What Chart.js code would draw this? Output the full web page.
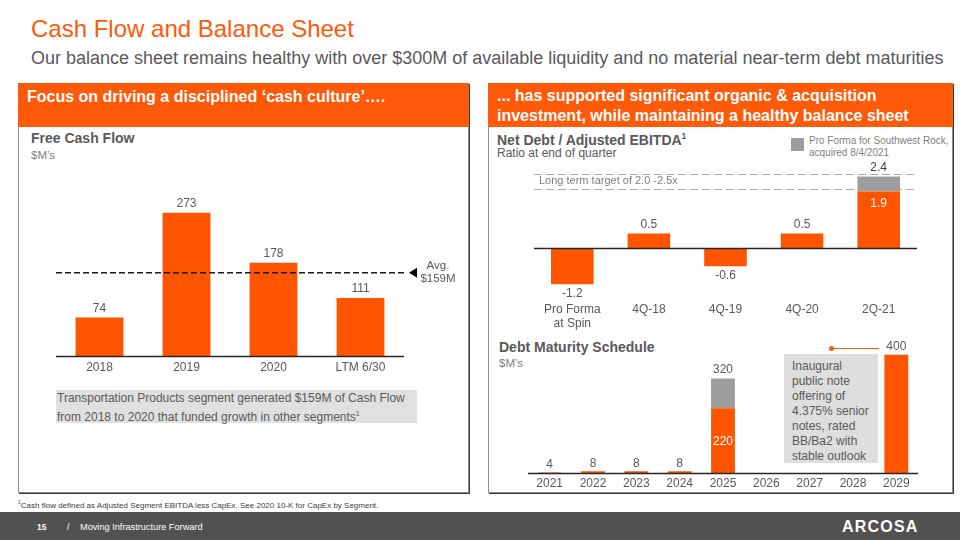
<!DOCTYPE html>
<html>
<head>
<meta charset="utf-8">
<script src="https://cdn.jsdelivr.net/npm/chart.js@4.4.1/dist/chart.umd.min.js"></script>
<style>
  body { margin: 0; width: 960px; height: 540px; position: relative; overflow: hidden; background: #fff; font-family: "Liberation Sans", Arial, sans-serif; color: #595959; }
  .abs { position: absolute; white-space: nowrap; }
  .panel { position: absolute; border: 1px solid #8c8c8c; box-shadow: 1px 1px 0 #3a3a3a; box-sizing: border-box; }
  .head { position: absolute; background: #ff5a0a; color: #fff; font-weight: bold; font-size: 16px; box-sizing: border-box; }
  canvas { position: absolute; }
</style>
</head>
<body>
<div class="abs" style="left:31px;top:15px;font-size:24px;color:#ff5a0a;">Cash Flow and Balance Sheet</div>
<div class="abs" style="left:31px;top:48px;font-size:18px;color:#595959;">Our balance sheet remains healthy with over $300M of available liquidity and no material near-term debt maturities</div>

<div class="panel" style="left:18px;top:83px;width:451px;height:410px;"></div>
<div class="head" style="left:18px;top:83px;width:451px;height:44px;padding:5px 0 0 9px;">Focus on driving a disciplined ‘cash culture’….</div>
<div class="abs" style="left:31px;top:130px;font-size:14px;font-weight:bold;">Free Cash Flow</div>
<div class="abs" style="left:31px;top:149px;font-size:11.5px;color:#7f7f7f;">$M’s</div>
<div class="abs" style="left:56px;top:390px;width:361px;height:33px;background:#e0e0e0;font-size:12px;line-height:15px;padding:1px 0 0 1px;box-sizing:border-box;white-space:normal;">Transportation Products segment generated $159M of Cash Flow from 2018 to 2020 that funded growth in other segments<sup style="font-size:7px;">1</sup></div>

<div class="panel" style="left:488px;top:83px;width:465px;height:410px;"></div>
<div class="head" style="left:488px;top:83px;width:465px;height:44px;padding:3px 0 0 9px;line-height:19.5px;">... has supported significant organic &amp; acquisition<br>investment, while maintaining a healthy balance sheet</div>
<div class="abs" style="left:497px;top:131px;font-size:14px;font-weight:bold;">Net Debt / Adjusted EBITDA<sup style="font-size:8.5px;">1</sup></div>
<div class="abs" style="left:497px;top:146px;font-size:12px;">Ratio at end of quarter</div>
<div class="abs" style="left:791px;top:138px;width:13px;height:13px;background:#9d9d9d;"></div>
<div class="abs" style="left:809px;top:135px;font-size:10px;line-height:12px;color:#7f7f7f;">Pro Forma for Southwest Rock,<br>acquired 8/4/2021</div>
<div class="abs" style="left:499px;top:339px;font-size:14px;font-weight:bold;">Debt Maturity Schedule</div>
<div class="abs" style="left:499px;top:357px;font-size:11.5px;color:#7f7f7f;">$M’s</div>
<div class="abs" style="left:784px;top:354px;width:94px;height:109px;background:#dedede;font-size:12px;line-height:15px;padding:5px 0 0 8px;box-sizing:border-box;">Inaugural<br>public note<br>offering of<br>4.375% senior<br>notes, rated<br>BB/Ba2 with<br>stable outlook</div>
<div class="abs" style="left:832px;top:348px;width:47px;height:1px;background:#ff5a0a;"></div>
<div class="abs" style="left:829px;top:346px;width:5px;height:5px;border-radius:50%;background:#ff5a0a;"></div>

<div class="abs" style="left:18px;top:499px;font-size:8px;font-family:'Liberation Sans Narrow','Liberation Sans',sans-serif;color:#404040;"><sup style="font-size:5px;">1</sup>Cash flow defined as Adjusted Segment EBITDA less CapEx. See 2020 10-K for CapEx by Segment.</div>
<div class="abs" style="left:0;top:512px;width:960px;height:28px;background:#515151;"></div>
<div class="abs" style="left:37px;top:522px;font-size:8.5px;font-weight:bold;color:#fff;">15</div>
<div class="abs" style="left:67px;top:522px;font-size:9px;color:#fff;">/</div>
<div class="abs" style="left:80px;top:522px;font-size:9.2px;color:#fff;font-family:'Liberation Sans Narrow','Liberation Sans',sans-serif;">Moving Infrastructure Forward</div>
<div class="abs" style="left:842px;top:518px;font-size:16px;font-weight:bold;color:#fff;letter-spacing:1.2px;">ARCOSA</div>

<canvas id="fcf" width="414" height="199" style="left:56px;top:180px;"></canvas>
<canvas id="ratio" width="383" height="181" style="left:534px;top:150px;"></canvas>
<canvas id="debt" width="391" height="154" style="left:528px;top:340px;"></canvas>

<script>
// Free cash flow
const fcfYears = ['2018', '2019', '2020', 'LTM 6/30'];
const fcfValues = [74, 273, 178, 111];
const fcfAverage = 159;

// Net debt / adjusted EBITDA
const ratioPeriods = [['Pro Forma', 'at Spin'], '4Q-18', '4Q-19', '4Q-20', '2Q-21'];
const ratioValues = [-1.2, 0.5, -0.6, 0.5, 1.9];
const ratioProForma = [null, null, null, null, 0.5];
const targetLow = 2.0;
const targetHigh = 2.5;

// Debt maturity
const maturityYears = ['2021', '2022', '2023', '2024', '2025', '2026', '2027', '2028', '2029'];
const maturityNotes = [4, 8, 8, 8, 220, null, null, null, 400];
const maturityOther = [null, null, null, null, 100, null, null, null, null];

const ORANGE = '#ff5500';
const GREY = '#9d9d9d';
const TEXT = '#595959';
const FONT = '"Liberation Sans", Arial, sans-serif';

function baseOptions(min, max, padRight, tickPad) {
    return {
        responsive: false,
        animation: false,
        devicePixelRatio: 1,
        layout: { padding: { left: 0, right: padRight, top: 0, bottom: 0 } },
        plugins: { legend: { display: false }, tooltip: { enabled: false } },
        scales: {
            x: {
                stacked: true,
                grid: { display: false, drawTicks: false },
                border: { display: false },
                ticks: { color: TEXT, font: { family: FONT, size: 12 }, padding: tickPad, maxRotation: 0, autoSkip: false }
            },
            y: { stacked: true, display: false, min: min, max: max }
        }
    };
}

function baseLine(chart, value, color) {
    const ctx = chart.ctx, a = chart.chartArea;
    const y = chart.scales.y.getPixelForValue(value);
    ctx.save();
    ctx.strokeStyle = color;
    ctx.lineWidth = 1.5;
    ctx.beginPath();
    ctx.moveTo(a.left, y);
    ctx.lineTo(a.right, y);
    ctx.stroke();
    ctx.restore();
}

function text(ctx, s, x, y, color, size, align) {
    ctx.fillStyle = color;
    ctx.font = size + 'px ' + FONT;
    ctx.textAlign = align || 'center';
    ctx.textBaseline = 'middle';
    ctx.fillText(s, x, y);
}

// ---- Free cash flow chart
new Chart(document.getElementById('fcf'), {
    type: 'bar',
    data: {
        labels: fcfYears,
        datasets: [{ data: fcfValues, backgroundColor: ORANGE, barPercentage: 0.55, categoryPercentage: 1 }]
    },
    options: baseOptions(0, 335, 66, 4),
    plugins: [{
        id: 'fcfDecor',
        afterDatasetsDraw(chart) {
            const ctx = chart.ctx, a = chart.chartArea;
            baseLine(chart, 0, '#262626');
            chart.getDatasetMeta(0).data.forEach((bar, i) => {
                text(ctx, String(fcfValues[i]), bar.x, bar.y - 9, TEXT, 12);
            });
            const y = chart.scales.y.getPixelForValue(fcfAverage);
            ctx.save();
            ctx.strokeStyle = '#1a1a1a';
            ctx.lineWidth = 1.5;
            ctx.setLineDash([6, 3]);
            ctx.beginPath();
            ctx.moveTo(a.left, y);
            ctx.lineTo(a.right + 1, y);
            ctx.stroke();
            ctx.restore();
            ctx.fillStyle = '#000';
            ctx.beginPath();
            ctx.moveTo(a.right + 5, y);
            ctx.lineTo(a.right + 13, y - 5);
            ctx.lineTo(a.right + 13, y + 5);
            ctx.closePath();
            ctx.fill();
            text(ctx, 'Avg.', a.right + 34, y - 7, TEXT, 11.5);
            text(ctx, '$' + fcfAverage + 'M', a.right + 34, y + 6, TEXT, 11.5);
        }
    }]
});

// ---- Net debt ratio chart
new Chart(document.getElementById('ratio'), {
    type: 'bar',
    data: {
        labels: ratioPeriods,
        datasets: [
            { data: ratioValues, backgroundColor: ORANGE, barPercentage: 0.556, categoryPercentage: 1 },
            { data: ratioProForma, backgroundColor: GREY, barPercentage: 0.556, categoryPercentage: 1 }
        ]
    },
    options: baseOptions(-1.8, 3.29, 0, 0),
    plugins: [{
        id: 'ratioDecor',
        beforeDatasetsDraw(chart) {
            const ctx = chart.ctx, a = chart.chartArea;
            ctx.save();
            ctx.strokeStyle = '#a6a6a6';
            ctx.lineWidth = 1;
            ctx.setLineDash([8, 4]);
            [targetLow, targetHigh].forEach(v => {
                const y = Math.round(chart.scales.y.getPixelForValue(v)) + 0.5;
                ctx.beginPath();
                ctx.moveTo(a.left, y);
                ctx.lineTo(a.right, y);
                ctx.stroke();
            });
            ctx.restore();
            const mid = (chart.scales.y.getPixelForValue(targetLow) + chart.scales.y.getPixelForValue(targetHigh)) / 2;
            text(chart.ctx, 'Long term target of ' + targetLow.toFixed(1) + ' -' + targetHigh.toFixed(1) + 'x', a.left + 5, mid, '#7f7f7f', 11, 'left');
        },
        afterDatasetsDraw(chart) {
            const ctx = chart.ctx;
            baseLine(chart, 0, '#262626');
            const main = chart.getDatasetMeta(0).data;
            const extra = chart.getDatasetMeta(1).data;
            main.forEach((bar, i) => {
                const v = ratioValues[i];
                if (ratioProForma[i] != null) {
                    text(ctx, v.toFixed(1), bar.x, bar.y + 12, '#fff', 12);
                    const total = v + ratioProForma[i];
                    const top = extra[i].y;
                    ctx.font = '12px ' + FONT;
                    const w = ctx.measureText(total.toFixed(1)).width + 6;
                    ctx.fillStyle = '#fff';
                    ctx.fillRect(bar.x - w / 2, top - 16, w, 13);
                    text(ctx, total.toFixed(1), bar.x, top - 9, '#404040', 12);
                } else if (v < 0) {
                    text(ctx, v.toFixed(1), bar.x, bar.y + 9, TEXT, 12);
                } else {
                    text(ctx, v.toFixed(1), bar.x, bar.y - 9, TEXT, 12);
                }
            });
        }
    }]
});

// ---- Debt maturity chart
new Chart(document.getElementById('debt'), {
    type: 'bar',
    data: {
        labels: maturityYears,
        datasets: [
            { data: maturityNotes, backgroundColor: ORANGE, barPercentage: 0.55, categoryPercentage: 1 },
            { data: maturityOther, backgroundColor: GREY, barPercentage: 0.55, categoryPercentage: 1 }
        ]
    },
    options: baseOptions(0, 450, 1, 3),
    plugins: [{
        id: 'debtDecor',
        afterDatasetsDraw(chart) {
            const ctx = chart.ctx;
            baseLine(chart, 0, '#262626');
            const main = chart.getDatasetMeta(0).data;
            const extra = chart.getDatasetMeta(1).data;
            main.forEach((bar, i) => {
                const v = maturityNotes[i];
                if (v == null) return;
                if (maturityOther[i] != null) {
                    text(ctx, String(v), bar.x, bar.y + 33, '#fff', 12);
                    text(ctx, String(v + maturityOther[i]), bar.x, extra[i].y - 9, TEXT, 12);
                } else {
                    text(ctx, String(v), bar.x, bar.y - 8, TEXT, 12);
                }
            });
        }
    }]
});
</script>
</body>
</html>
